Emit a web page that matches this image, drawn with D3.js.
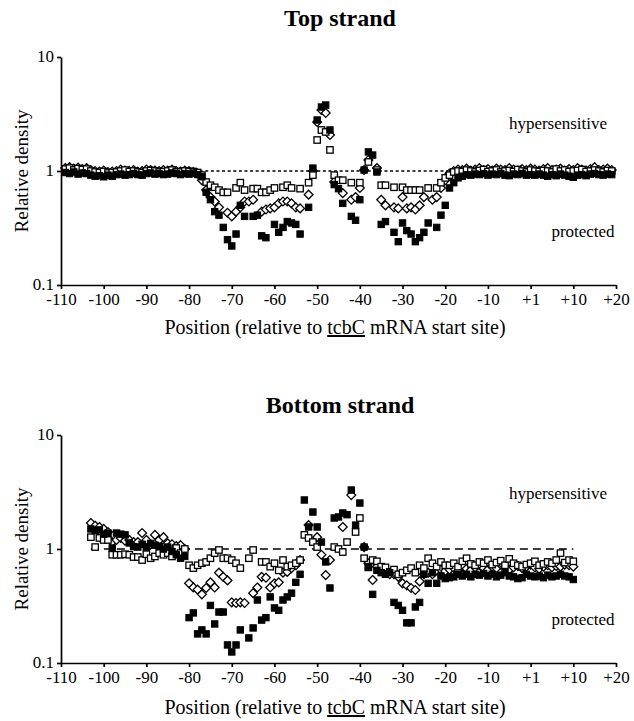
<!DOCTYPE html>
<html>
<head>
<meta charset="utf-8">
<script src="https://cdn.jsdelivr.net/npm/d3@7"></script>
<style>
  body { margin: 0; background: #fff; }
  text { font-family: "Liberation Serif", "Times New Roman", serif; fill: #000; }
</style>
</head>
<body>
<div id="chart"></div>
<script>
// positions along the promoter (axis units, +1 sits at 0)
var topPositions = d3.range(-109, 20)
var bottomPositions = d3.range(-103, 11)

var xTicks = d3.range(-110, 21, 10)
var xTickLabels = ["-110","-100","-90","-80","-70","-60","-50","-40","-30","-20","-10","+1","+10","+20"]
var yTicks = [0.1, 1, 10]
var yTickLabels = ["0.1", "1", "10"]

// top strand: filled squares, open squares, open diamonds
var topFilled = [
  0.97,0.95,0.98,0.94,0.96,0.95,0.92,0.9,0.91,0.89, 0.92,0.9,0.93,0.94,0.92,0.93,0.95,0.93,0.92,0.95, 0.96,0.94,0.95,0.93,0.94,0.96,0.95,0.93,0.95,0.94,
  0.96,0.93,0.89,0.65,0.56,0.44,0.41,0.32,0.25,0.22, 0.28,0.5,0.4,null,0.4,0.41,0.27,0.26,null,0.34, 0.29,0.32,0.36,0.35,0.34,0.28,null,0.48,1.06,2.8,
  3.64,3.79,2.29,0.76,0.7,0.52,null,0.4,0.37,0.56, 1.02,1.47,1.38,0.98,0.34,0.36,null,0.29,0.24,0.35, 0.3,0.28,0.24,0.26,0.29,0.35,null,0.32,0.41,0.5,
  0.71,0.79,0.87,0.9,0.93,0.92,0.94,0.93,0.95,0.92, 0.94,0.93,0.95,0.92,0.91,0.94,0.93,0.95,0.92,0.93, 0.92,0.94,0.92,0.9,0.93,0.91,0.94,0.92,0.9,0.88, 0.92,0.93,0.91,0.94,0.95,0.93,0.92,0.94,0.93
]
var topOpen = [
  1.04,1.06,1.02,1.05,1.03,1.04,1.0,0.98,0.97,0.99, 0.96,0.97,0.98,1.0,1.02,0.99,1.0,0.98,0.97,1.0, 1.01,1.0,0.98,0.99,1.0,1.02,0.99,0.98,1.0,0.99,
  0.99,0.97,0.92,0.8,0.75,0.72,0.68,0.65,0.65,null, 0.71,0.79,0.68,null,0.7,0.7,0.65,0.65,0.68,0.71, null,0.72,0.75,0.71,null,0.7,null,0.79,0.92,1.87,
  2.29,2.2,1.53,0.92,0.83,0.83,null,0.79,null,0.79, null,1.2,null,1.02,0.75,0.75,null,0.72,null,0.72, 0.68,0.68,0.68,0.68,null,0.71,null,0.71,0.79,0.87,
  0.92,0.98,1.0,0.99,1.02,1.0,0.98,1.01,1.03,0.99, 1.0,1.02,0.98,1.0,1.01,0.99,1.03,1.0,0.98,1.02, 1.0,0.99,1.01,1.0,0.98,1.04,1.0,1.02,0.99,1.0, 1.01,1.03,0.99,1.0,1.02,1.0,0.98,1.01,1.0
]
var topDiamond = [
  1.06,1.08,1.05,1.07,1.04,1.06,1.02,1.0,0.99,1.01, 0.98,0.99,1.0,1.03,1.01,1.0,1.02,0.99,1.0,1.03, 1.02,1.01,1.0,1.02,1.01,1.03,1.0,0.99,1.01,1.0,
  0.98,0.95,0.83,0.68,0.59,0.54,0.48,null,0.43,0.4, 0.44,0.48,0.54,0.54,0.56,null,0.44,0.46,0.47,0.48, 0.52,0.54,0.54,0.52,0.48,0.47,null,0.62,1.0,2.69,
  3.43,3.23,2.07,0.8,null,0.64,null,0.56,0.59,0.71, 1.02,1.25,null,1.06,0.56,0.5,null,0.48,0.47,0.59, 0.47,0.48,0.46,0.5,0.59,null,0.56,0.59,0.71,0.83,
  0.95,1.0,1.03,1.02,1.05,1.01,1.03,1.06,1.02,1.04, 1.01,1.05,1.03,1.02,1.06,1.03,1.01,1.04,1.02,1.05, 1.03,1.01,1.04,1.06,1.02,1.03,1.05,1.01,1.04,1.02, 1.06,1.03,1.01,1.04,1.08,1.02,1.03,1.05,1.02
]

// bottom strand
var bottomFilled = [
  1.5,1.45,1.47,1.35,1.38,1.02,1.38,1.35,1.33,1.13, 1.05,1.04,1.1,1.04,1.12,1.08,1.06,1.0,1.04,0.95, 0.89,0.83,0.86,
  0.25,0.275,0.18,0.195,0.18,0.32,0.22,0.28,0.28,0.144, 0.125,0.144,0.195,null,0.166,0.203,0.357,0.238,0.25,0.38, 0.304,0.29,0.357,0.38,0.41,0.51,0.6,2.69,1.56,2.11,
  1.56,1.15,0.77,0.455,1.87,1.91,2.07,2.0,3.29,1.62, 2.53,1.04,0.7,0.4,0.65,0.62,0.6,0.62,0.34,0.32, 0.29,0.225,0.225,0.31,0.34,0.6,0.5,0.62,0.5,0.58, 0.55,
  0.56,0.57,0.6,0.58,0.6,0.57,0.6,0.59,0.61,0.58, 0.6,0.57,0.59,0.62,0.58,0.57,0.55,0.56,0.6,0.58, 0.57,0.58,0.56,0.59,0.57,0.58,0.6,0.58,0.57,0.54
]
var bottomOpen = [
  1.27,1.04,1.25,1.2,1.2,0.89,0.89,0.89,0.9,0.89, 0.85,0.85,0.8,0.9,0.83,0.86,0.92,0.89,0.92,0.86, 1.02,0.92,1.0,
  0.72,0.68,0.72,0.75,0.77,0.83,0.92,0.98,0.83,0.83, 0.8,0.75,0.68,null,0.83,0.98,null,0.77,0.77,0.7, 0.75,0.65,0.8,0.7,0.72,0.75,0.8,
  1.33,1.25,1.15,1.04,null,null,null,1.04,1.0,0.94, 1.15,null,1.41,1.87,0.83,0.69,0.8,0.78,0.7,0.69, 0.63,0.66,0.6,0.62,0.65,0.68,0.62,0.72,0.68,0.83, 0.75,0.7,0.77,0.72,
  0.72,0.75,0.7,0.78,0.83,0.74,0.72,0.77,0.75,0.8, 0.73,0.76,0.79,0.72,0.82,0.75,0.72,0.7,0.73,0.75, 0.78,0.72,0.74,0.77,0.75,0.8,0.92,0.76,0.8,0.78
]
var bottomDiamond = [
  1.69,1.6,1.56,1.5,1.41,1.15,1.2,1.25,1.18,1.2, 1.15,1.15,1.38,1.2,1.1,1.33,1.2,1.27,1.12,1.1, 1.06,1.08,1.0,
  0.5,0.46,0.44,0.4,0.455,0.51,0.46,0.62,0.57,0.53, 0.34,0.336,0.34,0.336,null,0.41,0.46,0.57,0.56,0.46, 0.5,0.51,0.62,0.63,0.68,0.72,0.8,
  null,1.62,null,1.27,0.89,0.59,0.8,null,null,1.56, null,2.97,null,null,1.04,0.75,0.535,0.7,0.66,0.62, 0.6,0.6,0.57,0.5,0.48,0.455,0.437,0.52,0.6,0.62, 0.6,0.65,0.66,0.64,
  0.66,0.68,0.64,0.7,0.67,0.65,0.69,0.72,0.68,0.66, 0.7,0.68,0.73,0.7,0.66,0.69,0.71,0.68,0.7,0.73, 0.69,0.67,0.7,0.72,0.69,0.71,0.7,0.73,0.72,0.7
]

var width = 634, height = 721

var svg = d3.select("#chart").append("svg")
    .attr("width", width)
    .attr("height", height)

var xScale = d3.scaleLinear().domain([-110, 20]).range([61, 616])

var panels = [
  { title: "Top strand", titleY: 26, y0: 57, y1: 285, xTitleY: 334,
    positions: topPositions, filled: topFilled, open: topOpen, diamond: topDiamond,
    ref: [-109, 19], dash: "3,2.6", hyperY: 129, protY: 237 },
  { title: "Bottom strand", titleY: 413, y0: 435, y1: 663, xTitleY: 714,
    positions: bottomPositions, filled: bottomFilled, open: bottomOpen, diamond: bottomDiamond,
    ref: [-103, 10], dash: "8,5", hyperY: 499, protY: 625 }
]

var sq = 6.4, dia = 4.4

panels.forEach(p => {
  var yScale = d3.scaleLog().domain([0.1, 10]).range([p.y1, p.y0])
  var g = svg.append("g")

  g.append("text")
    .attr("x", 340).attr("y", p.titleY)
    .attr("text-anchor", "middle")
    .style("font-size", "24px").style("font-weight", "bold")
    .text(p.title)

  // reference line at 1
  g.append("line")
    .attr("x1", xScale(p.ref[0])).attr("x2", xScale(p.ref[1]))
    .attr("y1", yScale(1)).attr("y2", yScale(1))
    .style("stroke", "#000").style("stroke-width", 1.4)
    .style("stroke-dasharray", p.dash)

  var pts = s => p.positions.map((x, i) => ({ x: x, v: s[i] })).filter(d => d.v != null)

  g.append("g").selectAll("path")
    .data(pts(p.diamond)).enter()
    .append("path")
    .attr("d", d => {
      var cx = xScale(d.x), cy = yScale(d.v)
      return `M${cx},${cy - dia}L${cx + dia},${cy}L${cx},${cy + dia}L${cx - dia},${cy}Z`
    })
    .style("fill", "#fff").style("stroke", "#000").style("stroke-width", 1.3)

  g.append("g").selectAll("rect")
    .data(pts(p.open)).enter()
    .append("rect")
    .attr("x", d => xScale(d.x) - sq / 2)
    .attr("y", d => yScale(d.v) - sq / 2)
    .attr("width", sq).attr("height", sq)
    .style("fill", "#fff").style("stroke", "#000").style("stroke-width", 1.3)

  g.append("g").selectAll("rect")
    .data(pts(p.filled)).enter()
    .append("rect")
    .attr("x", d => xScale(d.x) - sq / 2)
    .attr("y", d => yScale(d.v) - sq / 2)
    .attr("width", sq).attr("height", sq)
    .style("fill", "#000").style("stroke", "#000").style("stroke-width", 1)

  // axes
  var xAxis = d3.axisBottom(xScale).tickValues(xTicks)
      .tickFormat((d, i) => xTickLabels[i]).tickSize(4).tickSizeOuter(0)
  var yAxis = d3.axisLeft(yScale).tickValues(yTicks)
      .tickFormat((d, i) => yTickLabels[i]).tickSize(4).tickSizeOuter(0)

  var xa = g.append("g")
    .attr("transform", `translate(0, ${p.y1})`)
    .call(xAxis)
  var ya = g.append("g")
    .attr("transform", `translate(${xScale(-110)}, 0)`)
    .call(yAxis)

  ;[xa, ya].forEach(a => {
    a.selectAll("path, line").style("stroke", "#000").style("stroke-width", 1.7)
    a.selectAll("text")
      .style("font-family", '"Liberation Serif", serif')
      .style("font-size", "17px").style("fill", "#000")
  })
  xa.selectAll("text").attr("y", 8)
  ya.selectAll("text").attr("dy", "0.28em")

  // y title
  g.append("text")
    .attr("transform", `translate(28, ${(p.y0 + p.y1) / 2}) rotate(-90)`)
    .attr("text-anchor", "middle")
    .style("font-size", "19px")
    .text("Relative density")

  // x title with underlined gene name
  var xt = g.append("text")
    .attr("x", 335).attr("y", p.xTitleY)
    .attr("text-anchor", "middle")
    .style("font-size", "20px")
  xt.append("tspan").text("Position (relative to ")
  xt.append("tspan").style("text-decoration", "underline").text("tcbC")
  xt.append("tspan").text(" mRNA start site)")

  g.append("text")
    .attr("x", 558).attr("y", p.hyperY)
    .attr("text-anchor", "middle")
    .style("font-size", "17px")
    .text("hypersensitive")

  g.append("text")
    .attr("x", 583).attr("y", p.protY)
    .attr("text-anchor", "middle")
    .style("font-size", "17px")
    .text("protected")
})
</script>
</body>
</html>
